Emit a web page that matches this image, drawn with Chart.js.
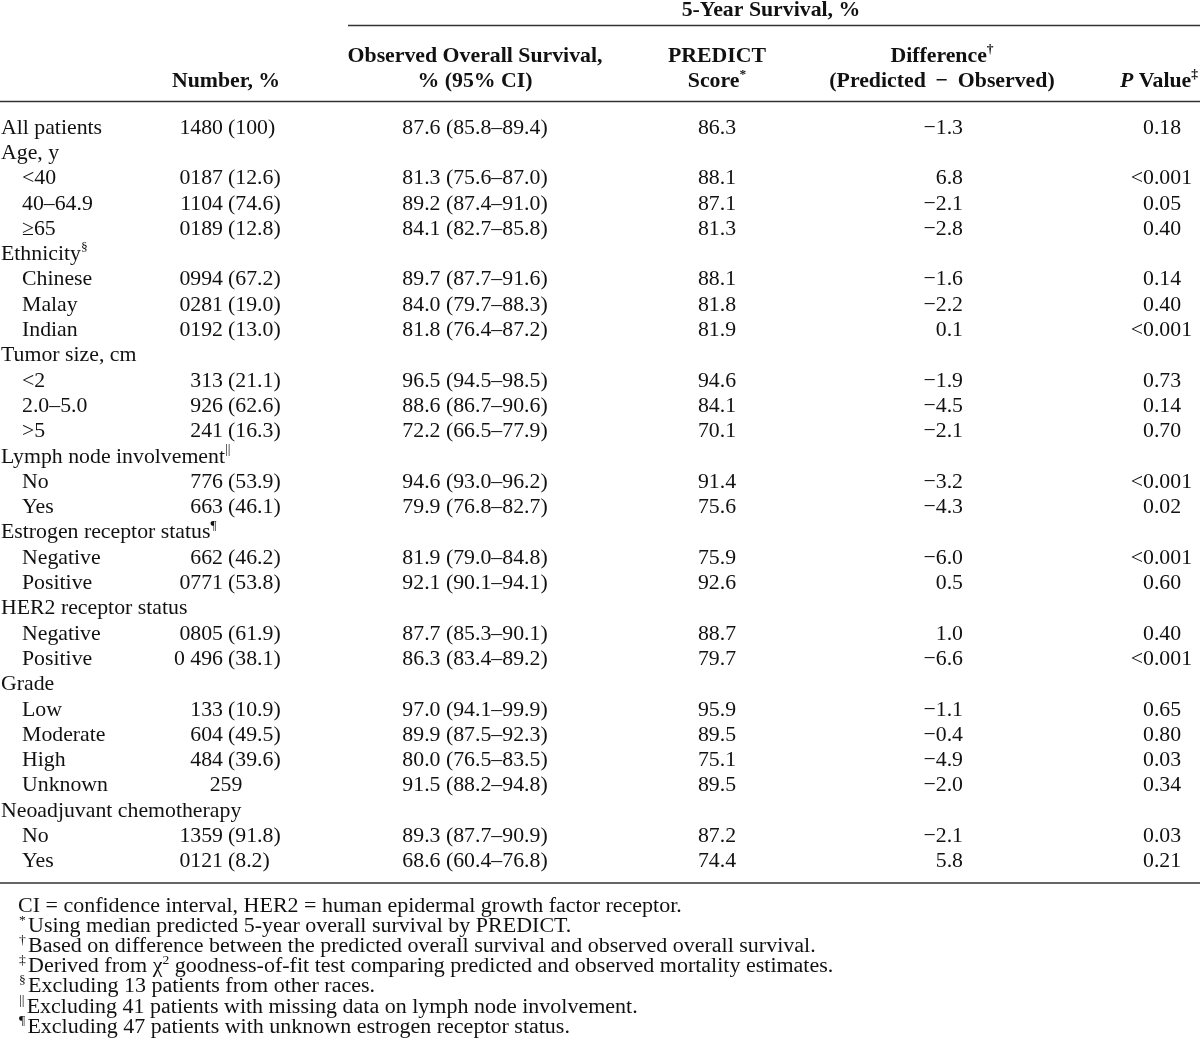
<!DOCTYPE html>
<html>
<head>
<meta charset="utf-8">
<script src="https://cdn.jsdelivr.net/npm/chart.js@4.4.1/dist/chart.umd.min.js"></script>
<style>
html, body { margin: 0; padding: 0; background: #fff; }
#wrap { position: relative; width: 1200px; height: 1051px; }
</style>
</head>
<body>
<div id="wrap"><canvas id="tabela"></canvas></div>
<script>
// linhas da tabela
const rowLabels = ['All patients', 'Age, y', '<40', '40\u201364.9', '\u226565', 'Ethnicity', 'Chinese', 'Malay', 'Indian',
    'Tumor size, cm', '<2', '2.0\u20135.0', '>5', 'Lymph node involvement', 'No', 'Yes',
    'Estrogen receptor status', 'Negative', 'Positive', 'HER2 receptor status', 'Negative', 'Positive',
    'Grade', 'Low', 'Moderate', 'High', 'Unknown', 'Neoadjuvant chemotherapy', 'No', 'Yes']
const rowNotes = ['', '', '', '', '', '\u00a7', '', '', '', '', '', '', '', '||', '', '', '\u00b6', '', '', '', '', '', '', '', '', '', '', '', '', '']
const subRow = [0, 0, 1, 1, 1, 0, 1, 1, 1, 0, 1, 1, 1, 0, 1, 1, 0, 1, 1, 0, 1, 1, 0, 1, 1, 1, 1, 0, 1, 1]

const counts = ['1480', '', '0187', '1104', '0189', '', '0994', '0281', '0192', '', '313', '926', '241', '', '776', '663', '',
    '662', '0771', '', '0805', '0 496', '', '133', '604', '484', '259', '', '1359', '0121']
const pcts = ['100', '', '12.6', '74.6', '12.8', '', '67.2', '19.0', '13.0', '', '21.1', '62.6', '16.3', '', '53.9', '46.1', '',
    '46.2', '53.8', '', '61.9', '38.1', '', '10.9', '49.5', '39.6', '', '', '91.8', '8.2']

const observed = [87.6, null, 81.3, 89.2, 84.1, null, 89.7, 84.0, 81.8, null, 96.5, 88.6, 72.2, null, 94.6, 79.9, null,
    81.9, 92.1, null, 87.7, 86.3, null, 97.0, 89.9, 80.0, 91.5, null, 89.3, 68.6]
const ciLow = [85.8, null, 75.6, 87.4, 82.7, null, 87.7, 79.7, 76.4, null, 94.5, 86.7, 66.5, null, 93.0, 76.8, null,
    79.0, 90.1, null, 85.3, 83.4, null, 94.1, 87.5, 76.5, 88.2, null, 87.7, 60.4]
const ciHigh = [89.4, null, 87.0, 91.0, 85.8, null, 91.6, 88.3, 87.2, null, 98.5, 90.6, 77.9, null, 96.2, 82.7, null,
    84.8, 94.1, null, 90.1, 89.2, null, 99.9, 92.3, 83.5, 94.8, null, 90.9, 76.8]
const predict = [86.3, null, 88.1, 87.1, 81.3, null, 88.1, 81.8, 81.9, null, 94.6, 84.1, 70.1, null, 91.4, 75.6, null,
    75.9, 92.6, null, 88.7, 79.7, null, 95.9, 89.5, 75.1, 89.5, null, 87.2, 74.4]
const difference = [-1.3, null, 6.8, -2.1, -2.8, null, -1.6, -2.2, 0.1, null, -1.9, -4.5, -2.1, null, -3.2, -4.3, null,
    -6.0, 0.5, null, 1.0, -6.6, null, -1.1, -0.4, -4.9, -2.0, null, -2.1, 5.8]
const pValues = ['0.18', '', '<0.001', '0.05', '0.40', '', '0.14', '0.40', '<0.001', '', '0.73', '0.14', '0.70', '',
    '<0.001', '0.02', '', '<0.001', '0.60', '', '0.40', '<0.001', '', '0.65', '0.80', '0.03', '0.34', '', '0.03', '0.21']

const footnotes = [
    ['', 'CI = confidence interval, HER2 = human epidermal growth factor receptor.'],
    ['*', 'Using median predicted 5-year overall survival by PREDICT.'],
    ['\u2020', 'Based on difference between the predicted overall survival and observed overall survival.'],
    ['\u2021', 'Derived from \u03c7^2 goodness-of-fit test comparing predicted and observed mortality estimates.'],
    ['\u00a7', 'Excluding 13 patients from other races.'],
    ['||', 'Excluding 41 patients with missing data on lymph node involvement.'],
    ['\u00b6', 'Excluding 47 patients with unknown estrogen receptor status.']
]

// posicoes das colunas (unidades do eixo x, 0..1200)
const cols = { label: 1, indent: 22, countRight: 223, pctLeft: 228, countCenter: 226, obs: 475, predict: 717,
    diffRight: 963, pLeft: 1143, diffHead: 942, pHeadRight: 1192, groupLeft: 348 }

const SERIF = "'Liberation Serif', 'Times New Roman', serif"
const FS = 21.8
const FN = 20
const FN_STRETCH = 1.1

function f(size, bold, italic) {
    return (italic ? 'italic ' : '') + (bold ? 'bold ' : '') + size + 'px ' + SERIF
}

// desenha partes de texto (normal / sobrescrito)
function rich(ctx, parts, x, y, align) {
    let w = 0
    parts.forEach(p => { ctx.font = p.font; p.w = ctx.measureText(p.t).width; w += p.w + (p.gap || 0) })
    let sx = align === 'center' ? x - w / 2 : align === 'right' ? x - w : x
    ctx.textAlign = 'left'
    parts.forEach(p => {
        ctx.font = p.font
        ctx.fillText(p.t, sx, y + (p.dy || 0))
        sx += p.w + (p.gap || 0)
    })
}
function sup(t, size, bold, gap) {
    return { t: t, font: f(size * 0.62, bold), dy: -size * 0.42, gap: gap || 0 }
}
function txt(t, size, bold, italic) {
    return { t: t, font: f(size, bold, italic) }
}
function num(v) {
    return (v < 0 ? '\u2212' : '') + Math.abs(v).toFixed(1)
}

const tablePlugin = {
    id: 'tabela',
    afterDraw(chart) {
        const ctx = chart.ctx
        const xs = chart.scales.x
        const ys = chart.scales.y
        const X = v => xs.getPixelForValue(v)
        ctx.save()
        ctx.fillStyle = '#111'
        ctx.strokeStyle = '#333'
        ctx.textBaseline = 'alphabetic'

        // linhas horizontais
        const bodyTop = ys.top
        const bodyBottom = ys.bottom
        ctx.lineWidth = 1.6
        ctx.beginPath()
        ctx.moveTo(X(cols.groupLeft), 25.5); ctx.lineTo(X(1200), 25.5)
        ctx.moveTo(X(0), bodyTop - 12.5); ctx.lineTo(X(1200), bodyTop - 12.5)
        ctx.moveTo(X(0), bodyBottom + 10); ctx.lineTo(X(1200), bodyBottom + 10)
        ctx.stroke()

        // cabecalho
        const h1 = bodyTop - 52, h2 = bodyTop - 27
        rich(ctx, [txt('5-Year Survival, %', FS, true)], X(771), 16, 'center')
        rich(ctx, [txt('Number, %', FS, true)], X(cols.countCenter), h2, 'center')
        rich(ctx, [txt('Observed Overall Survival,', FS, true)], X(cols.obs), h1, 'center')
        rich(ctx, [txt('% (95% CI)', FS, true)], X(cols.obs), h2, 'center')
        rich(ctx, [txt('PREDICT', FS, true)], X(cols.predict), h1, 'center')
        rich(ctx, [txt('Score', FS, true), sup('*', FS, true)], X(cols.predict), h2, 'center')
        rich(ctx, [txt('Difference', FS, true), sup('\u2020', FS, true)], X(cols.diffHead), h1, 'center')
        rich(ctx, [txt('(Predicted \u2009\u2212\u2009 Observed)', FS, true)], X(cols.diffHead), h2, 'center')
        rich(ctx, [txt('P', FS, true, true), txt(' Value', FS, true), sup('\u2021', FS, true)], X(cols.pHeadRight + 6), h2, 'right')

        // corpo
        rowLabels.forEach((lab, i) => {
            const y = ys.getPixelForValue(i) + 7
            const lx = subRow[i] ? cols.indent : cols.label
            const parts = [txt(lab, FS)]
            if (rowNotes[i]) parts.push(sup(rowNotes[i], FS))
            rich(ctx, parts, X(lx), y, 'left')

            if (counts[i]) {
                if (pcts[i]) {
                    rich(ctx, [txt(counts[i], FS)], X(cols.countRight), y, 'right')
                    rich(ctx, [txt('(' + pcts[i] + ')', FS)], X(cols.pctLeft), y, 'left')
                } else {
                    rich(ctx, [txt(counts[i], FS)], X(cols.countCenter), y, 'center')
                }
            }
            if (observed[i] !== null) {
                const s = observed[i].toFixed(1) + ' (' + ciLow[i].toFixed(1) + '\u2013' + ciHigh[i].toFixed(1) + ')'
                rich(ctx, [txt(s, FS)], X(cols.obs), y, 'center')
            }
            if (predict[i] !== null) rich(ctx, [txt(predict[i].toFixed(1), FS)], X(cols.predict), y, 'center')
            if (difference[i] !== null) rich(ctx, [txt(num(difference[i]), FS)], X(cols.diffRight), y, 'right')
            if (pValues[i]) {
                const p = pValues[i]
                if (p[0] === '<') {
                    rich(ctx, [txt('<', FS)], X(cols.pLeft), y, 'right')
                    rich(ctx, [txt(p.slice(1), FS)], X(cols.pLeft), y, 'left')
                } else {
                    rich(ctx, [txt(p, FS)], X(cols.pLeft), y, 'left')
                }
            }
        })

        // notas de rodape (ligeiramente alargadas na horizontal)
        footnotes.forEach((n, k) => {
            const y = bodyBottom + 39 + k * 20.1
            const parts = []
            if (n[0]) parts.push(sup(n[0], FN, false, 2))
            const bits = n[1].split('^')
            parts.push(txt(bits[0], FN))
            if (bits.length > 1) {
                parts.push(sup(bits[1][0], FN))
                parts.push(txt(bits[1].slice(1), FN))
            }
            const x0 = X(n[0] ? 19 : 18)
            ctx.save()
            ctx.translate(x0, 0)
            ctx.scale(FN_STRETCH, 1)
            rich(ctx, parts, 0, y, 'left')
            ctx.restore()
        })
        ctx.restore()
    }
}

const tabela = new Chart(document.getElementById('tabela'), {
    type: 'scatter',
    data: {
        labels: rowLabels,
        datasets: []
    },
    options: {
        responsive: true,
        maintainAspectRatio: false,
        animation: false,
        layout: { padding: { top: 114, bottom: 178, left: 0, right: 0 } },
        plugins: { legend: { display: false }, tooltip: { enabled: false } },
        scales: {
            x: { type: 'linear', min: 0, max: 1200, display: false },
            y: { type: 'category', labels: rowLabels, offset: true, display: false }
        }
    },
    plugins: [tablePlugin]
})
</script>
</body>
</html>
